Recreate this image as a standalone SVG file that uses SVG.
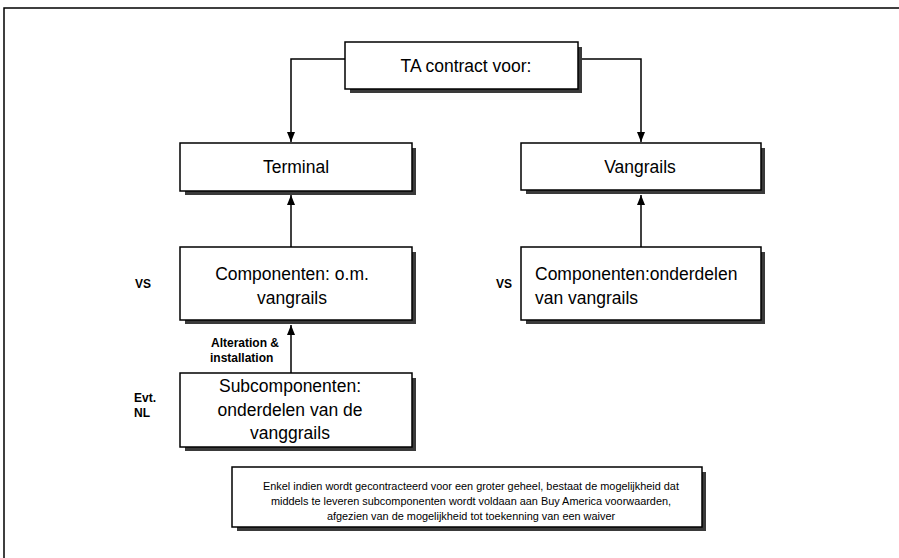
<svg xmlns="http://www.w3.org/2000/svg" width="899" height="558" viewBox="0 0 899 558">
<style>
.box{fill:#fff;stroke:#000;stroke-width:1.5}
.sh{fill:#3a3a3a}
.t{font-family:"Liberation Sans",Arial,sans-serif;font-size:17.5px;fill:#000;text-anchor:middle}
.tl{font-family:"Liberation Sans",Arial,sans-serif;font-size:17.5px;fill:#000}
.lb{font-family:"Liberation Sans",Arial,sans-serif;font-size:12px;font-weight:bold;fill:#000}
.sm{font-family:"Liberation Sans",Arial,sans-serif;font-size:10.9px;fill:#000;text-anchor:middle}
.ln{fill:none;stroke:#000;stroke-width:1.5}
</style>
<defs>
<marker id="ah" viewBox="0 0 10 10" refX="10" refY="5" markerWidth="10" markerHeight="10" markerUnits="userSpaceOnUse" orient="auto">
<path d="M0,1 L10,5 L0,9 Z" fill="#000"/>
</marker>
</defs>
<rect width="899" height="558" fill="#fff"/>
<path d="M4,558 V8 H899" fill="none" stroke="#000" stroke-width="1.5"/>

<g id="connectors">
<path class="ln" d="M345,59 H291 V142" marker-end="url(#ah)"/>
<path class="ln" d="M578,59 H641 V142" marker-end="url(#ah)"/>
<path class="ln" d="M291,247 V195" marker-end="url(#ah)"/>
<path class="ln" d="M641,247 V195" marker-end="url(#ah)"/>
<path class="ln" d="M291,373 V325" marker-end="url(#ah)"/>
</g>

<g id="ta">
<rect class="sh" x="350" y="47" width="232" height="46"/>
<rect class="box" x="345" y="42" width="233" height="47"/>
<text class="t" x="466" y="72">TA contract voor:</text>
</g>

<g id="terminal">
<rect class="sh" x="185" y="148" width="231" height="47"/>
<rect class="box" x="180" y="143" width="232" height="48"/>
<text class="t" x="296" y="173">Terminal</text>
</g>

<g id="vangrails">
<rect class="sh" x="526" y="148" width="239" height="46"/>
<rect class="box" x="521" y="143" width="240" height="47"/>
<text class="t" x="640" y="173">Vangrails</text>
</g>

<g id="comp-left">
<rect class="sh" x="185" y="252" width="231" height="72"/>
<rect class="box" x="180" y="247" width="232" height="73"/>
<text class="t" x="292" y="280">Componenten: o.m.</text>
<text class="t" x="292" y="304">vangrails</text>
</g>

<g id="comp-right">
<rect class="sh" x="526" y="252" width="239" height="72"/>
<rect class="box" x="521" y="247" width="240" height="73"/>
<text class="tl" x="535" y="280">Componenten:onderdelen</text>
<text class="tl" x="535" y="304">van vangrails</text>
</g>

<g id="sub">
<rect class="sh" x="185" y="378" width="231" height="73"/>
<rect class="box" x="180" y="373" width="232" height="74"/>
<text class="t" x="290" y="392">Subcomponenten:</text>
<text class="t" x="290" y="416">onderdelen van de</text>
<text class="t" x="290" y="439">vanggrails</text>
</g>

<g id="labels">
<text class="lb" x="135" y="288">VS</text>
<text class="lb" x="496" y="288">VS</text>
<text class="lb" x="211" y="347">Alteration &amp;</text>
<text class="lb" x="210" y="362">installation</text>
<text class="lb" x="134" y="402">Evt.</text>
<text class="lb" x="134" y="417">NL</text>
</g>

<g id="note">
<rect class="sh" x="237" y="472" width="469" height="59"/>
<rect class="box" x="232" y="467" width="470" height="60"/>
<text class="sm" x="471" y="490">Enkel indien wordt gecontracteerd voor een groter geheel, bestaat de mogelijkheid dat</text>
<text class="sm" x="471" y="505">middels te leveren subcomponenten wordt voldaan aan Buy America voorwaarden,</text>
<text class="sm" x="471" y="520">afgezien van de mogelijkheid tot toekenning van een waiver</text>
</g>
</svg>
